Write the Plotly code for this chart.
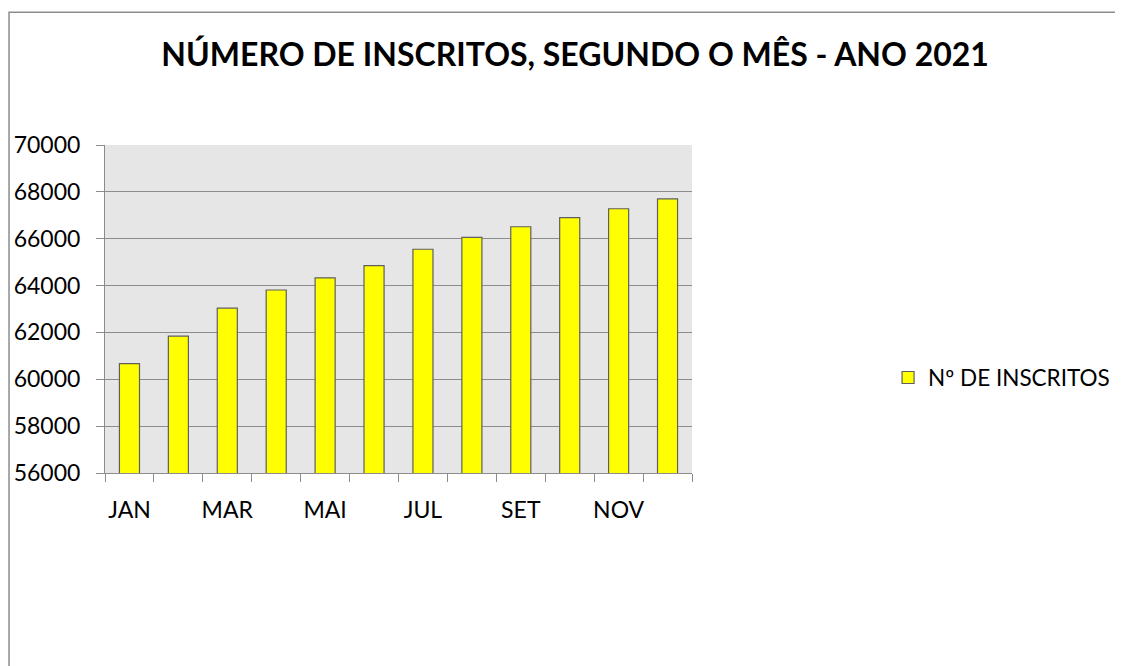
import plotly.graph_objects as go

months = ["JAN", "FEV", "MAR", "ABR", "MAI", "JUN", "JUL", "AGO", "SET", "OUT", "NOV", "DEZ"]
inscritos = [60670, 61840, 63040, 63810, 64330, 64850, 65550, 66060, 66510, 66900, 67280, 67700]
label_months = ["JAN", "MAR", "MAI", "JUL", "SET", "NOV"]
y_ticks = [56000, 58000, 60000, 62000, 64000, 66000, 68000, 70000]

FONT = "Lato"
fig = go.Figure()
fig.add_trace(go.Bar(
    x=months, y=inscritos, name="Nº DE INSCRITOS",
    marker=dict(color="#ffff00", line=dict(color="#5f5f5f", width=1.2)),
    width=0.41,
))
# invisible trace to carry boundary ticks
fig.add_trace(go.Bar(
    x=months, y=inscritos, xaxis="x2", showlegend=False, hoverinfo="skip",
    marker=dict(color="rgba(0,0,0,0)", line=dict(width=0)), width=0.41,
))

fig.update_layout(
    width=1123, height=666,
    margin=dict(l=97, r=439, t=137, b=201, autoexpand=False),
    paper_bgcolor="white", plot_bgcolor="#e6e6e6",
    font=dict(family=FONT, color="#000000", size=23),
    title=dict(text="<b>NÚMERO DE INSCRITOS, SEGUNDO O MÊS - ANO 2021</b>",
               x=0.505, xref="container", xanchor="center",
               y=0.929, yref="container", yanchor="middle",
               font=dict(family=FONT, size=32, color="#000000")),
    showlegend=True,
    legend=dict(x=1.334, y=0.29, xanchor="left", yanchor="middle",
                font=dict(family=FONT, size=22.5), bgcolor="rgba(0,0,0,0)",
                itemwidth=30),
    xaxis=dict(type="category", categoryorder="array", categoryarray=months,
               range=[-0.5, 11.5], tickmode="array", tickvals=label_months,
               ticktext=label_months, ticks="", showgrid=False, automargin=False,
               showline=True, linecolor="#8c8c8c", linewidth=1,
               tickfont=dict(family=FONT, size=23), ticklabelstandoff=16),
    xaxis2=dict(type="category", categoryorder="array", categoryarray=months,
                range=[-0.5, 11.5], overlaying="x", side="bottom", automargin=False,
                showticklabels=False, ticks="outside", tickson="boundaries",
                ticklen=8, tickcolor="#8c8c8c", showgrid=False, showline=False),
    yaxis=dict(range=[56000, 70000], tickmode="array", tickvals=y_ticks,
               ticks="outside", ticklen=8, tickcolor="#8c8c8c", automargin=False,
               showgrid=True, gridcolor="#8c8c8c", gridwidth=1,
               showline=True, linecolor="#8c8c8c", linewidth=1,
               tickfont=dict(family=FONT, size=23), ticklabelstandoff=11,
               tickformat="d", zeroline=False),
    shapes=[dict(type="rect", xref="paper", yref="paper",
                 x0=-0.1635, x1=2.5, y0=-1.5, y1=1.405,
                 line=dict(color="#8c8c8c", width=1.5), fillcolor="rgba(0,0,0,0)",
                 layer="below")],
    bargap=0.59,
)
fig.write_html("out.html")
